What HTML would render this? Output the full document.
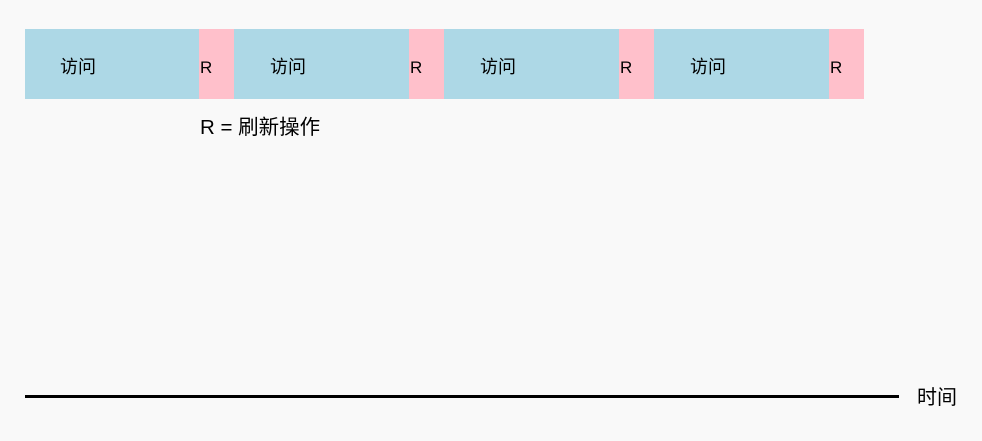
<!DOCTYPE html>
<html><head><meta charset="utf-8"><style>
html,body{margin:0;padding:0;}
body{width:982px;height:441px;background:#f9f9f9;position:relative;overflow:hidden;font-family:"Liberation Sans","Noto Sans CJK SC",sans-serif;color:#000;}
.b{position:absolute;top:29px;height:70px;background:#add8e6;}
.p{position:absolute;top:29px;height:70px;width:35px;background:#ffc0cb;}
.t{position:absolute;top:56px;font-size:18px;line-height:22px;}
.r{position:absolute;top:57px;font-size:17px;line-height:22px;}
</style></head><body>
<div class="b" style="left:25px;width:174px"></div><div class="p" style="left:199px"></div>
<div class="b" style="left:234px;width:175px"></div><div class="p" style="left:409px"></div>
<div class="b" style="left:444px;width:175px"></div><div class="p" style="left:619px"></div>
<div class="b" style="left:654px;width:175px"></div><div class="p" style="left:829px"></div>
<div class="t" style="left:60px">访问</div><div class="r" style="left:200px">R</div>
<div class="t" style="left:270px">访问</div><div class="r" style="left:410px">R</div>
<div class="t" style="left:480px">访问</div><div class="r" style="left:620px">R</div>
<div class="t" style="left:690px">访问</div><div class="r" style="left:830px">R</div>
<div style="position:absolute;left:200px;top:116px;font-size:20.5px;line-height:24px">R = 刷新操作</div>
<div style="position:absolute;left:25px;top:395px;width:874px;height:3px;background:#000"></div>
<div style="position:absolute;left:917px;top:386px;font-size:20px;line-height:24px">时间</div>
</body></html>
